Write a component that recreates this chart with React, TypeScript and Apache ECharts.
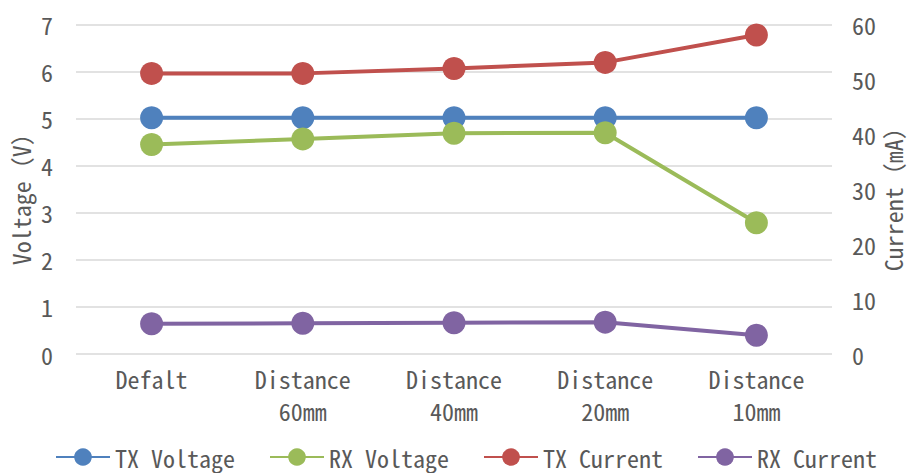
import React, { useEffect, useRef } from "react";
import * as echarts from "echarts";

const categories = ["Defalt", "Distance\n60mm", "Distance\n40mm", "Distance\n20mm", "Distance\n10mm"];
const txVoltage = [5.02, 5.02, 5.02, 5.02, 5.02];
const rxVoltage = [4.45, 4.57, 4.69, 4.7, 2.79];
const txCurrent = [51.1, 51.1, 52.0, 53.1, 58.1];
const rxCurrent = [5.5, 5.6, 5.7, 5.8, 3.4];

const FONT = '"Noto Sans Mono CJK JP", "Noto Sans CJK JP", "DejaVu Sans Mono", monospace';
const TEXT = "#595959";
const FS = 24;

function lineSeries(name: string, data: number[], color: string, yAxisIndex: number) {
  return {
    name,
    type: "line",
    data,
    yAxisIndex,
    symbol: "circle",
    symbolSize: 23,
    lineStyle: { color, width: 4 },
    itemStyle: { color },
  };
}

export default function App() {
  const ref = useRef<HTMLDivElement>(null);
  useEffect(() => {
    if (!ref.current) return;
    const chart = echarts.init(ref.current, undefined, { renderer: "svg" });
    chart.setOption({
      animation: false,
      textStyle: { fontFamily: FONT, color: TEXT },
      grid: { left: 76, right: 77, top: 24.5, bottom: 119, outerBoundsMode: "none", containLabel: false },
      legend: {
        top: 440,
        left: 50,
        itemWidth: 54,
        itemHeight: 22,
        itemGap: 34,
        textStyle: { fontFamily: FONT, fontSize: FS, color: TEXT },
      },
      xAxis: {
        type: "category",
        data: categories,
        boundaryGap: true,
        axisLine: { show: false },
        axisTick: { show: false },
        axisLabel: { fontFamily: FONT, fontSize: FS, color: TEXT, margin: 8, lineHeight: 32 },
      },
      yAxis: [
        {
          type: "value",
          min: 0,
          max: 7,
          interval: 1,
          name: "Voltage（V）",
          nameLocation: "middle",
          nameRotate: 90,
          nameGap: 44,
          nameMoveOverlap: false,
          nameTextStyle: { fontFamily: FONT, fontSize: FS, color: TEXT, padding: [0, 8, 0, 0] },
          axisLine: { show: false },
          axisTick: { show: false },
          axisLabel: { fontFamily: FONT, fontSize: FS, color: TEXT, margin: 23 },
          splitLine: { lineStyle: { color: "#d9d9d9", width: 1.5 } },
        },
        {
          type: "value",
          min: 0,
          max: 60,
          interval: 10,
          name: "Current（mA）",
          nameLocation: "middle",
          nameRotate: 90,
          nameGap: 48,
          nameMoveOverlap: false,
          nameTextStyle: { fontFamily: FONT, fontSize: FS, color: TEXT, padding: [0, 8, 0, 0] },
          axisLine: { show: false },
          axisTick: { show: false },
          axisLabel: { fontFamily: FONT, fontSize: FS, color: TEXT, margin: 20 },
          splitLine: { show: false },
        },
      ],
      series: [
        lineSeries("TX Voltage", txVoltage, "#4F81BD", 0),
        lineSeries("RX Voltage", rxVoltage, "#9BBB59", 0),
        lineSeries("TX Current", txCurrent, "#C0504D", 1),
        lineSeries("RX Current", rxCurrent, "#8064A2", 1),
      ],
    });
    return () => chart.dispose();
  }, []);
  return <div ref={ref} style={{ width: 909, height: 473, position: "absolute", left: 0, top: 0 }} />;
}
